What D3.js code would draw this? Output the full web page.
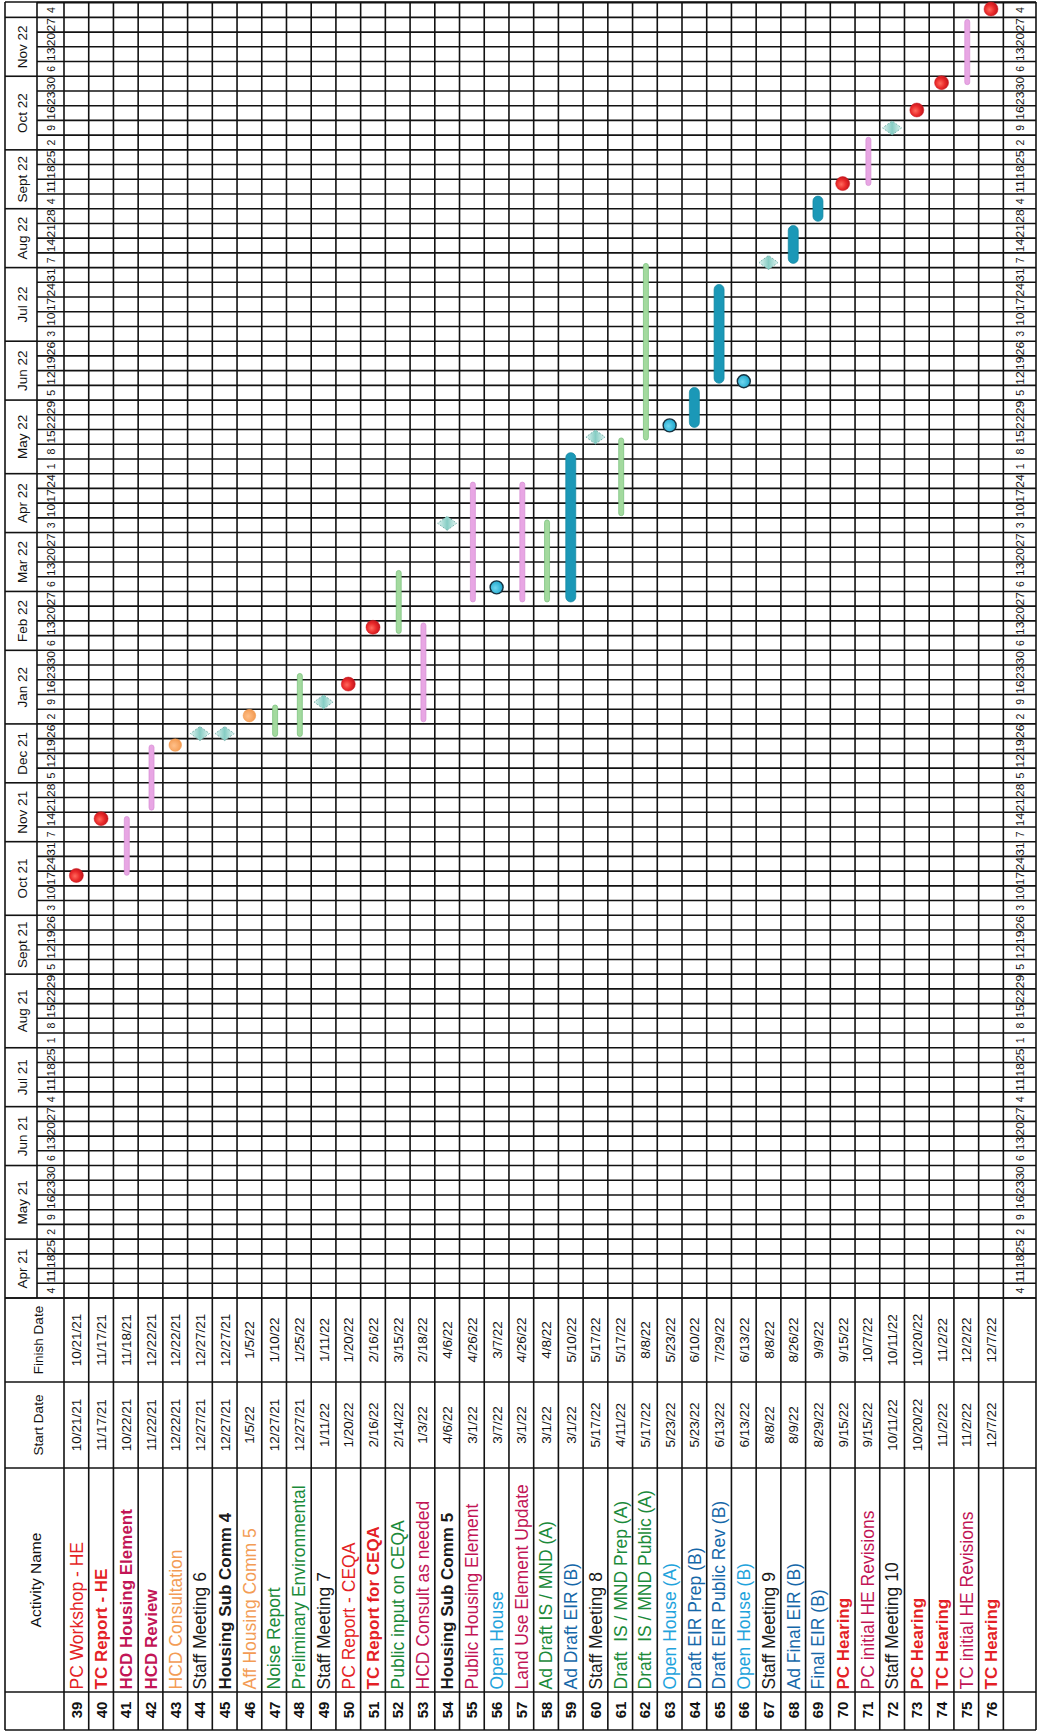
<!DOCTYPE html>
<html><head><meta charset="utf-8">
<script src="https://cdn.jsdelivr.net/npm/d3@7"></script>
<style>
body{margin:0;background:#fff;}
svg{display:block;}
text{font-family:"Liberation Sans",Arial,sans-serif;white-space:pre;}
</style></head><body>
<script>
// ---------------- DATA ----------------
const rowIds = [39,40,41,42,43,44,45,46,47,48,49,50,51,52,53,54,55,56,57,58,59,60,61,62,63,64,65,66,67,68,69,70,71,72,73,74,75,76];
const activityNames = ["PC Workshop - HE","TC Report - HE","HCD Housing Element","HCD Review","HCD Consultation","Staff Meeting 6","Housing Sub Comm 4","Aff Housing Comm 5","Noise Report","Preliminary Environmental","Staff Meeting 7","PC Report - CEQA","TC Report for CEQA","Public input on CEQA","HCD Consult as needed","Housing Sub Comm 5","Public Housing Element","Open House","Land Use Element Update","Ad Draft IS / MND (A)","Ad Draft EIR (B)","Staff Meeting 8","Draft  IS / MND Prep (A)","Draft  IS / MND Public (A)","Open House (A)","Draft EIR Prep (B)","Draft EIR Public Rev (B)","Open House (B)","Staff Meeting 9","Ad Final EIR (B)","Final EIR (B)","PC Hearing","PC initial HE Revisions","Staff Meeting 10","PC Hearing","TC Hearing","TC initial HE Revisions","TC Hearing"];
const startDates = ["10/21/21","11/17/21","10/22/21","11/22/21","12/22/21","12/27/21","12/27/21","1/5/22","12/27/21","12/27/21","1/11/22","1/20/22","2/16/22","2/14/22","1/3/22","4/6/22","3/1/22","3/7/22","3/1/22","3/1/22","3/1/22","5/17/22","4/11/22","5/17/22","5/23/22","5/23/22","6/13/22","6/13/22","8/8/22","8/9/22","8/29/22","9/15/22","9/15/22","10/11/22","10/20/22","11/2/22","11/2/22","12/7/22"];
const finishDates = ["10/21/21","11/17/21","11/18/21","12/22/21","12/22/21","12/27/21","12/27/21","1/5/22","1/10/22","1/25/22","1/11/22","1/20/22","2/16/22","3/15/22","2/18/22","4/6/22","4/26/22","3/7/22","4/26/22","4/8/22","5/10/22","5/17/22","5/17/22","8/8/22","5/23/22","6/10/22","7/29/22","6/13/22","8/8/22","8/26/22","9/9/22","9/15/22","10/7/22","10/11/22","10/20/22","11/2/22","12/2/22","12/7/22"];
const categories = ["pc","tc","hcd","hcd","consult","staff","subcomm","consult","env","env","staff","pc","tc","env","hcd2","subcomm","hcd2","openhouse","hcd2","env","eir","staff","env","env","openhouse","eir","eir","openhouse","staff","eir","eir","tc","hcd2","staff","tc","tc","hcd2","tc"];
const monthLabels = ["Apr 21","May 21","Jun 21","Jul 21","Aug 21","Sept 21","Oct 21","Nov 21","Dec 21","Jan 22","Feb 22","Mar 22","Apr 22","May 22","Jun 22","Jul 22","Aug 22","Sept 22","Oct 22","Nov 22",""];
const headerLabels = ["Activity Name","Start Date","Finish Date"];
const timelineStart = "4/4/21", timelineEnd = "12/11/22";

// ---------------- STYLE ----------------
const textStyle = {
  pc:{fill:"#e41f26",weight:"normal"}, tc:{fill:"#e41f26",weight:"bold"},
  hcd:{fill:"#c21556",weight:"bold"}, hcd2:{fill:"#c21556",weight:"normal"},
  consult:{fill:"#f39c55",weight:"normal"}, staff:{fill:"#1a1a1a",weight:"normal"},
  subcomm:{fill:"#1a1a1a",weight:"bold"}, env:{fill:"#1b8a3a",weight:"normal"},
  openhouse:{fill:"#1fa3dc",weight:"normal"}, eir:{fill:"#1567a8",weight:"normal"}
};
const markType = {pc:"redDot",tc:"redDot",consult:"orangeDot",openhouse:"blueDot",staff:"diamond",subcomm:"diamond",hcd:"pinkBar",hcd2:"pinkBar",env:"greenBar",eir:"blueBar"};

// ---------------- LAYOUT (landscape frame, rotated -90) ----------------
const PAGE_W = 1038, PAGE_H = 1734;
const U = {left:4, num:42, name:266, start:352, finish:436, right:1732};
const V = {top:5, month:37, head:64, rowH:24.72, bottom:1036};
const rowsEnd = V.head + rowIds.length*V.rowH;
const LINE = "#121212";

const parse = d3.timeParse("%m/%d/%y");
const t0 = parse(timelineStart), t1 = parse(timelineEnd);
const nWeeks = Math.round((t1 - t0)/(7*864e5));
const weekW = 14.72;
const x = d3.scaleTime().domain([t0,t1]).range([U.finish, U.finish + nWeeks*weekW]);
const y = d3.scaleBand().domain(rowIds).range([V.head, rowsEnd]);

const svg = d3.select("body").append("svg").attr("width",PAGE_W).attr("height",PAGE_H);
svg.append("rect").attr("width",PAGE_W).attr("height",PAGE_H).attr("fill","#fff");
const defs = svg.append("defs");
const rg = defs.append("radialGradient").attr("id","redG").attr("cx","45%").attr("cy","40%").attr("r","60%");
rg.append("stop").attr("offset","0%").attr("stop-color","#ff6a5e");
rg.append("stop").attr("offset","55%").attr("stop-color","#ea2a2a");
rg.append("stop").attr("offset","100%").attr("stop-color","#c0141c");
const og = defs.append("radialGradient").attr("id","orgG").attr("cx","45%").attr("cy","40%").attr("r","60%");
og.append("stop").attr("offset","0%").attr("stop-color","#ffc08a");
og.append("stop").attr("offset","100%").attr("stop-color","#f39a50");
const bg = defs.append("radialGradient").attr("id","bluG").attr("cx","45%").attr("cy","40%").attr("r","60%");
bg.append("stop").attr("offset","0%").attr("stop-color","#6fd6ef");
bg.append("stop").attr("offset","100%").attr("stop-color","#1ba6cc");
const dg = defs.append("linearGradient").attr("id","diaG").attr("x1","0").attr("y1","0").attr("x2","0").attr("y2","1");
dg.append("stop").attr("offset","0%").attr("stop-color","#e2f4f1");
dg.append("stop").attr("offset","50%").attr("stop-color","#86cdc4");
dg.append("stop").attr("offset","100%").attr("stop-color","#e2f4f1");

const g = svg.append("g").attr("transform",`translate(0,${PAGE_H}) rotate(-90)`);

// weeks & months
const weeks = d3.timeSunday.range(t0, t1);
const months = d3.timeMonth.range(d3.timeMonth.floor(t0), t1).map((m,i)=>{
  const s = d3.timeSunday.ceil(m);
  const e = d3.timeSunday.ceil(d3.timeMonth.offset(m,1));
  return {label:monthLabels[i], s: s < t0 ? t0 : s, e: e > t1 ? t1 : e};
});

const grid = g.append("g").attr("stroke",LINE).attr("stroke-width",1.6).attr("fill","none");
grid.selectAll(".wk").data(weeks.concat([t1])).join("line")
  .attr("x1",d=>x(d)).attr("x2",d=>x(d)).attr("y1",V.month).attr("y2",V.bottom);
grid.selectAll(".mo").data(months).join("line")
  .attr("x1",d=>x(d.s)).attr("x2",d=>x(d.s)).attr("y1",V.top).attr("y2",V.month);
grid.append("line").attr("x1",U.finish).attr("x2",U.right).attr("y1",V.month).attr("y2",V.month);
const rowLines = [V.top, V.head].concat(rowIds.map(r=>y(r)+y.bandwidth()), [V.bottom]);
grid.selectAll(".rl").data(rowLines).join("line")
  .attr("x1",U.left).attr("x2",U.right).attr("y1",d=>d).attr("y2",d=>d);
grid.selectAll(".cl").data([U.left,U.num,U.name,U.start,U.finish,U.right]).join("line")
  .attr("x1",d=>d).attr("x2",d=>d).attr("y1",V.top).attr("y2",V.bottom);

// header labels
const hdr = g.append("g").attr("fill","#111");
hdr.append("text").attr("x",(U.num+U.name)/2).attr("y",41).attr("text-anchor","middle").attr("font-size",15.5).text(headerLabels[0]);
hdr.append("text").attr("x",(U.name+U.start)/2).attr("y",43).attr("text-anchor","middle").attr("font-size",13.5).text(headerLabels[1]);
hdr.append("text").attr("x",(U.start+U.finish)/2).attr("y",43).attr("text-anchor","middle").attr("font-size",13.5).text(headerLabels[2]);

hdr.selectAll(".ml").data(months).join("text")
  .attr("x",d=>(x(d.s)+x(d.e))/2).attr("y",27).attr("text-anchor","middle").attr("font-size",13.5)
  .text(d=>d.label);
[ (V.month+V.head)/2 + 4, (rowsEnd+V.bottom)/2 + 4 ].forEach(ty=>{
  hdr.append("g").selectAll("text").data(weeks).join("text")
    .attr("x",d=>x(d)+weekW/2).attr("y",ty).attr("text-anchor","middle").attr("font-size",10.5)
    .attr("textLength",d=>d.getDate()>9?13.4:null).attr("lengthAdjust","spacingAndGlyphs")
    .text(d=>d.getDate());
});

// table rows
const rows = rowIds.map((id,i)=>({id,name:activityNames[i],s:startDates[i],f:finishDates[i],cat:categories[i]}));
const tb = g.append("g");
tb.selectAll(".num").data(rows).join("text")
  .attr("x",(U.left+U.num)/2+1).attr("y",d=>y(d.id)+y.bandwidth()/2+5.5).attr("text-anchor","middle")
  .attr("font-size",15).attr("font-weight","bold").attr("fill","#111").text(d=>d.id);
tb.selectAll(".nm").data(rows).join("text")
  .attr("x",U.num+2.5).attr("y",d=>y(d.id)+y.bandwidth()/2+6.3)
  .attr("font-size",d=>textStyle[d.cat].weight==="bold"?17:17.5)
  .attr("font-weight",d=>textStyle[d.cat].weight).attr("fill",d=>textStyle[d.cat].fill).text(d=>d.name);
tb.selectAll(".sd").data(rows).join("text")
  .attr("x",(U.name+U.start)/2).attr("y",d=>y(d.id)+y.bandwidth()/2+5).attr("text-anchor","middle")
  .attr("font-size",13.5).attr("fill","#111").text(d=>d.s);
tb.selectAll(".fd").data(rows).join("text")
  .attr("x",(U.start+U.finish)/2).attr("y",d=>y(d.id)+y.bandwidth()/2+5).attr("text-anchor","middle")
  .attr("font-size",13.5).attr("fill","#111").text(d=>d.f);

// marks
const mk = g.append("g");
const cy = d => y(d.id)+y.bandwidth()/2;
const endOf = s => d3.timeDay.offset(parse(s),1);
const barSpec = {pinkBar:{w:5,fill:"#e8a6e4",stroke:"#d58cd2"}, greenBar:{w:5,fill:"#a3da9e",stroke:"#74bf79"}, blueBar:{w:10,fill:"#1b98b7",stroke:"#13869f"}};
rows.forEach(d=>{
  const t = markType[d.cat];
  if (barSpec[t]) {
    const b = barSpec[t];
    const xs = x(parse(d.s)), xe = x(endOf(d.f));
    mk.append("rect").attr("x",xs).attr("width",xe-xs).attr("y",cy(d)-b.w/2+(t==="blueBar"?0:1)).attr("height",b.w)
      .attr("rx",b.w/2).attr("fill",b.fill).attr("stroke",b.stroke).attr("stroke-width",0.7);
  } else if (t==="diamond") {
    const cx = x(parse(d.s)) + 3, c = cy(d);
    mk.append("path").attr("d",`M${cx-7},${c} L${cx},${c-9.5} L${cx+7},${c} L${cx},${c+9.5} Z`)
      .attr("fill","url(#diaG)").attr("stroke","#6fada6").attr("stroke-width",0.9).attr("stroke-dasharray","2,1.5");
  } else {
    const cx = x(parse(d.s)) + 2, c = cy(d);
    const spec = {redDot:{r:7,f:"url(#redG)",s:"#c8161e",sw:0.5}, orangeDot:{r:6.3,f:"url(#orgG)",s:"#ee9447",sw:0.5}, blueDot:{r:6.5,f:"url(#bluG)",s:"#16313f",sw:1.4}}[t];
    mk.append("circle").attr("cx",cx).attr("cy",c).attr("r",spec.r).attr("fill",spec.f).attr("stroke",spec.s).attr("stroke-width",spec.sw);
  }
});
</script>
</body></html>
